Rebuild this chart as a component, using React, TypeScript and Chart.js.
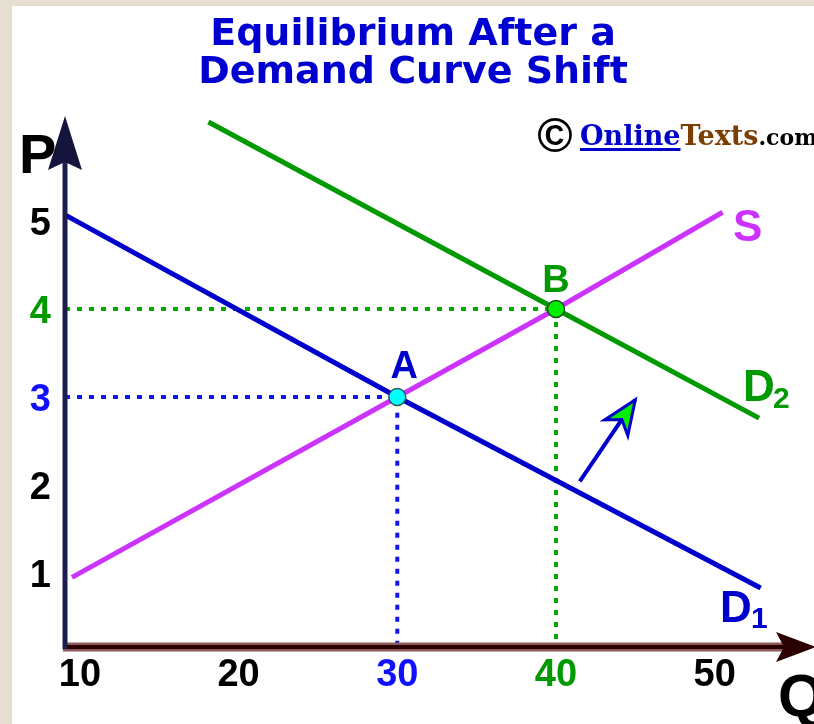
import React, { useEffect, useRef } from "react";
import { Chart, registerables } from "chart.js";

Chart.register(...registerables);

// ---- data ----
const xTickValues = [10, 20, 30, 40, 50];
const yTickValues = [1, 2, 3, 4, 5];
const qRange = [9.06, 55.63];
const pRange = [0.159, 6.205];

const demand1Q = [9.06, 30, 52.9];
const demand1P = [5.07, 3.0, 0.83];
const demand2Q = [18.1, 40, 52.8];
const demand2P = [6.125, 4.0, 2.76];
const supplyQ = [9.5, 30, 40, 50.5];
const supplyP = [0.95, 3.0, 4.0, 5.1];

const equilibriumA = [30, 3];
const equilibriumB = [40, 4];

const shiftArrowQ = [41.5, 45.0];
const shiftArrowP = [2.04, 2.97];

const title = ["Equilibrium After a", "Demand Curve Shift"];

// ---- styles ----
const BLUE = "#0000cc";
const BRIGHT_BLUE = "#1010ff";
const GREEN = "#009a00";
const MAGENTA = "#cc33ff";
const tickColorX: Record<number, string> = { 30: BRIGHT_BLUE, 40: GREEN };
const tickColorY: Record<number, string> = { 3: BRIGHT_BLUE, 4: GREEN };
const SANS = "'Liberation Sans', Arial, sans-serif";

const pts = (qs: number[], ps: number[]) => qs.map((q, i) => ({ x: q, y: ps[i] }));

const decorPlugin = {
  id: "decor",
  beforeDraw(chart: any) {
    const { ctx, width, height } = chart;
    ctx.save();
    ctx.fillStyle = "#e6ded1";
    ctx.fillRect(0, 0, width, height);
    ctx.fillStyle = "#ffffff";
    ctx.fillRect(12, 6, width - 12, height - 6);
    ctx.restore();
  },
  afterDatasetsDraw(chart: any) {
    const { ctx } = chart;
    const xs = chart.scales.x;
    const ys = chart.scales.y;
    const area = chart.chartArea;
    const ax = area.left;
    const ay = area.bottom;
    ctx.save();

    // x axis
    ctx.lineCap = "butt";
    ctx.strokeStyle = "#8a5a5a";
    ctx.lineWidth = 9;
    ctx.beginPath();
    ctx.moveTo(ax - 2, ay);
    ctx.lineTo(790, ay);
    ctx.stroke();
    ctx.strokeStyle = "#2a0000";
    ctx.lineWidth = 4;
    ctx.beginPath();
    ctx.moveTo(ax - 2, ay);
    ctx.lineTo(790, ay);
    ctx.stroke();
    ctx.fillStyle = "#2a0000";
    ctx.beginPath();
    ctx.moveTo(816, ay);
    ctx.lineTo(776, ay - 15);
    ctx.lineTo(784, ay);
    ctx.lineTo(776, ay + 15);
    ctx.closePath();
    ctx.fill();

    // y axis
    ctx.strokeStyle = "#1e1e4e";
    ctx.lineWidth = 5;
    ctx.beginPath();
    ctx.moveTo(ax, ay + 2);
    ctx.lineTo(ax, 150);
    ctx.stroke();
    ctx.fillStyle = "#14143c";
    ctx.beginPath();
    ctx.moveTo(ax, 116);
    ctx.lineTo(ax - 17, 170);
    ctx.lineTo(ax, 162);
    ctx.lineTo(ax + 17, 170);
    ctx.closePath();
    ctx.fill();

    // shift arrow head
    const meta = chart.getDatasetMeta(5);
    const p0 = meta.data[0];
    const p1 = meta.data[1];
    const ang = Math.atan2(p1.y - p0.y, p1.x - p0.x);
    const L = 34, W = 14;
    const bx = p1.x - L * Math.cos(ang), by = p1.y - L * Math.sin(ang);
    const nx = -Math.sin(ang), ny = Math.cos(ang);
    ctx.beginPath();
    ctx.moveTo(p1.x, p1.y);
    ctx.lineTo(bx + nx * W, by + ny * W);
    ctx.lineTo(p1.x - 24 * Math.cos(ang), p1.y - 24 * Math.sin(ang));
    ctx.lineTo(bx - nx * W, by - ny * W);
    ctx.closePath();
    ctx.fillStyle = "#00ee00";
    ctx.fill();
    ctx.strokeStyle = BLUE;
    ctx.lineWidth = 3;
    ctx.lineJoin = "miter";
    ctx.stroke();

    // tick labels
    ctx.font = `bold 38px ${SANS}`;
    ctx.textBaseline = "alphabetic";
    ctx.textAlign = "center";
    xTickValues.forEach((v) => {
      ctx.fillStyle = tickColorX[v] || "#000";
      ctx.fillText(String(v), xs.getPixelForValue(v), 686);
    });
    ctx.textAlign = "right";
    yTickValues.forEach((v) => {
      ctx.fillStyle = tickColorY[v] || "#000";
      ctx.fillText(String(v), 51, ys.getPixelForValue(v) + 14);
    });

    // axis names
    ctx.textAlign = "left";
    ctx.fillStyle = "#000";
    ctx.font = `bold 56px ${SANS}`;
    ctx.fillText("P", 19, 173);
    ctx.font = `bold 60px ${SANS}`;
    ctx.fillText("Q", 778, 716);

    // point labels
    ctx.textAlign = "center";
    ctx.font = `bold 38px ${SANS}`;
    ctx.fillStyle = BLUE;
    ctx.fillText("A", xs.getPixelForValue(equilibriumA[0]) + 7, ys.getPixelForValue(equilibriumA[1]) - 19);
    ctx.fillStyle = GREEN;
    ctx.fillText("B", xs.getPixelForValue(equilibriumB[0]), ys.getPixelForValue(equilibriumB[1]) - 17);

    // curve labels
    ctx.textAlign = "left";
    ctx.font = `bold 44px ${SANS}`;
    ctx.fillStyle = MAGENTA;
    ctx.fillText("S", 733, 241);
    ctx.fillStyle = GREEN;
    ctx.fillText("D", 743, 401);
    ctx.font = `bold 30px ${SANS}`;
    ctx.fillText("2", 773, 408);
    ctx.font = `bold 44px ${SANS}`;
    ctx.fillStyle = BLUE;
    ctx.fillText("D", 720, 622);
    ctx.font = `bold 30px ${SANS}`;
    ctx.fillText("1", 751, 628);

    // title
    ctx.textAlign = "center";
    ctx.fillStyle = "#0000d0";
    ctx.font = "bold 38px 'DejaVu Sans', Verdana, sans-serif";
    ctx.fillText(title[0], 413, 45);
    ctx.fillText(title[1], 413, 83);

    // copyright
    ctx.textAlign = "center";
    ctx.fillStyle = "#000";
    ctx.font = `bold 48px ${SANS}`;
    ctx.fillText("\u00a9", 555, 152);
    ctx.textAlign = "left";
    ctx.font = "bold 27px 'DejaVu Serif', serif";
    let cx = 580;
    ctx.fillStyle = "#0000cc";
    ctx.fillText("Online", cx, 145);
    const w1 = ctx.measureText("Online").width;
    ctx.fillRect(cx, 148, w1, 3);
    cx += w1;
    ctx.fillStyle = "#7a3e00";
    ctx.fillText("Texts", cx, 145);
    cx += ctx.measureText("Texts").width;
    ctx.fillStyle = "#000";
    ctx.font = "bold 22px 'DejaVu Serif', serif";
    ctx.fillText(".com", cx, 145);

    ctx.restore();
  },
};

export default function App() {
  const ref = useRef<HTMLCanvasElement>(null);
  useEffect(() => {
    if (!ref.current) return;
    const guideBlue = [
      { x: qRange[0], y: equilibriumA[1] },
      { x: equilibriumA[0], y: equilibriumA[1] },
      { x: equilibriumA[0], y: pRange[0] },
    ];
    const guideGreen = [
      { x: qRange[0], y: equilibriumB[1] },
      { x: equilibriumB[0], y: equilibriumB[1] },
      { x: equilibriumB[0], y: pRange[0] },
    ];
    const chart = new Chart(ref.current, {
      type: "scatter",
      data: {
        datasets: [
          { data: guideBlue, showLine: true, borderColor: "#1414f0", borderWidth: 4, borderDash: [5, 7], pointRadius: 0, order: 9, clip: false } as any,
          { data: guideGreen, showLine: true, borderColor: "#00a800", borderWidth: 4, borderDash: [5, 7], pointRadius: 0, order: 9, clip: false } as any,
          { data: pts(demand1Q, demand1P), showLine: true, borderColor: BLUE, borderWidth: 5, pointRadius: 0, order: 4, clip: false } as any,
          { data: pts(demand2Q, demand2P), showLine: true, borderColor: GREEN, borderWidth: 5, pointRadius: 0, order: 4, clip: false } as any,
          { data: pts(supplyQ, supplyP), showLine: true, borderColor: MAGENTA, borderWidth: 5, pointRadius: 0, order: 3, clip: false } as any,
          { data: pts(shiftArrowQ, shiftArrowP), showLine: true, borderColor: BLUE, borderWidth: 4, pointRadius: 0, order: 2, clip: false } as any,
          { data: [{ x: equilibriumA[0], y: equilibriumA[1] }], pointRadius: 8.5, pointBackgroundColor: "#00ffff", pointBorderColor: "#335555", pointBorderWidth: 1.5, order: 0, clip: false } as any,
          { data: [{ x: equilibriumB[0], y: equilibriumB[1] }], pointRadius: 8.5, pointBackgroundColor: "#00ee00", pointBorderColor: "#224422", pointBorderWidth: 1.5, order: 0, clip: false } as any,
        ],
      },
      options: {
        responsive: false,
        animation: false,
        events: [],
        layout: { padding: { left: 65, right: 4, top: 115, bottom: 77 } },
        plugins: { legend: { display: false }, title: { display: false }, tooltip: { enabled: false } },
        scales: {
          x: { type: "linear", min: qRange[0], max: qRange[1], display: false },
          y: { type: "linear", min: pRange[0], max: pRange[1], display: false },
        },
      },
      plugins: [decorPlugin],
    });
    return () => chart.destroy();
  }, []);
  return (
    <div style={{ position: "absolute", left: 0, top: 0, width: 814, height: 724 }}>
      <canvas ref={ref} width={814} height={724} style={{ display: "block", width: 814, height: 724 }} />
    </div>
  );
}
